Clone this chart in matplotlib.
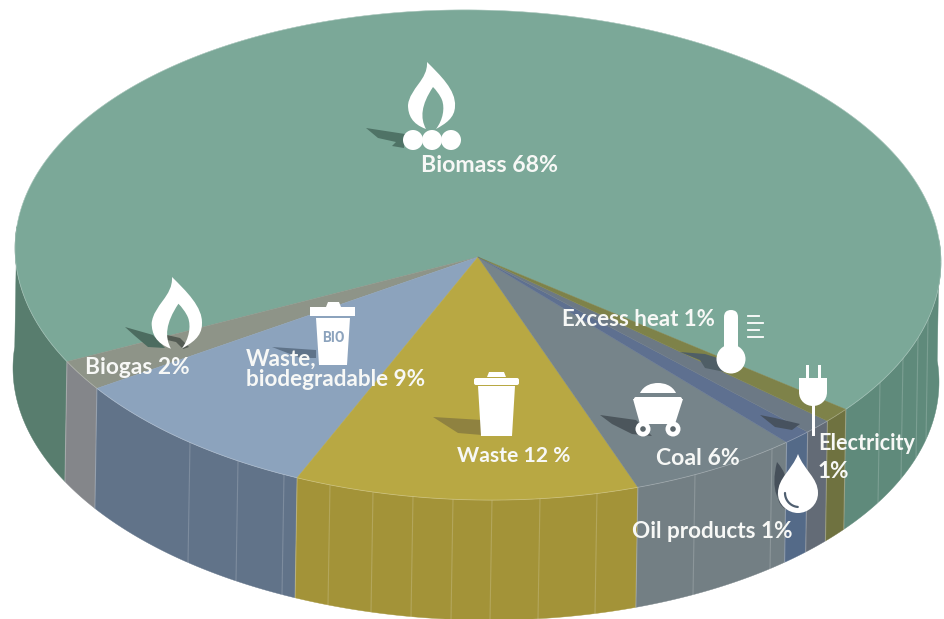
import numpy as np
import matplotlib
matplotlib.use("Agg")
import matplotlib.pyplot as plt
from matplotlib.path import Path
from matplotlib.patches import PathPatch, Circle, Polygon, FancyBboxPatch

# Data
sources = ["Biomass", "Biogas", "Waste bio", "Waste", "Coal", "Oil products", "Electricity", "Excess heat"]
shares = [68, 2, 9, 12, 6, 1, 1, 1]
top_colors = ["#7ba898", "#8e9488", "#8ca3bd", "#b8a843", "#76848a", "#5e7090", "#6c7985", "#7e8249"]
side_colors = ["#5f8a7b", "#84868a", "#617389", "#a39338", "#737f84", "#546a88", "#636b76", "#6f7240"]
side_left = "#587d6e"
seam_x = [190, 238, 284, 330, 373, 413, 453, 492, 540, 597, 695, 772, 880, 903, 918, 928]

label_texts = ["Biomass 68%", "Biogas 2%", "Waste,", "biodegradable 9%", "Waste 12 %",
               "Coal 6%", "Oil products 1%", "Electricity", "1%", "Excess heat 1%"]
label_x = [421, 85, 246, 246, 457, 656, 632, 818, 818, 562]
label_y = [165.5, 367.5, 359.5, 379.5, 456, 458.5, 532, 443, 472, 319.5]
label_size = [16.7, 16.4, 16.2, 16.2, 15.2, 16.6, 16.2, 15.6, 16.2, 16.0]

# Geometry of the disc, in pixels
cx, cy = 478, 255
a, b = 463, 245
tilt = 0.015
apex = (478, 257)
depth = 120
start_angle = 322.6
white = "#ffffff"
text_white = "#f7f8f6"


def rim(t, drop=0.0):
    # t in degrees, drop=1 gives the bottom rim
    t = np.radians(t)
    x = cx - 2 * drop + a * np.cos(t)
    y = cy + depth * drop - b * np.sin(t) + tilt * a * np.cos(t)
    return np.column_stack([x, y])


def add_side(ax, t1, t2, color):
    ts = np.linspace(t1, t2, 60)
    pts = np.vstack([rim(ts), rim(ts[::-1], 1)])
    ax.add_patch(Polygon(pts, closed=True, fc=color, ec=color, lw=0.3, zorder=2))


def flame(ox, oy, s):
    segs = [(0, 0), (13, 13), (29, 28), (28, 44), (28, 56), (18, 62), (9, 67),
            (16, 58), (18, 46), (15, 38), (13, 33), (9, 28), (6, 25),
            (-6, 43), (-7, 56), (-1, 67), (-15, 62), (-19, 53), (-19, 43),
            (-17, 26), (1, 18), (0, 0)]
    verts = [(ox + s * p[0], oy + s * p[1]) for p in segs]
    codes = [Path.MOVETO] + [Path.CURVE4] * (len(verts) - 1)
    return PathPatch(Path(verts, codes), fc=white, ec="none", zorder=6)


def shadow(ax, pts, color):
    ax.add_patch(Polygon(pts, closed=True, fc=color, ec="none", zorder=5))


fig = plt.figure(figsize=(9.45, 6.19), dpi=100)
ax = fig.add_axes([0, 0, 1, 1])
ax.set_xlim(0, 945)
ax.set_ylim(619, 0)
ax.axis("off")

edges = start_angle + np.concatenate([[0], np.cumsum(shares)]) * 3.6

# sides first, only the part facing us
for i in range(len(shares)):
    t1, t2 = edges[i], edges[i + 1]
    if i == 0:
        add_side(ax, t1, 365, side_colors[i])
        add_side(ax, 175, t2 - 360, side_left)
    else:
        add_side(ax, t1 - 360 if t1 >= 360 else t1, t2 - 360 if t1 >= 360 else t2, side_colors[i])

# seams on the side
for x in seam_x:
    t = 360 - np.degrees(np.arccos((x - cx) / a))
    line = np.vstack([rim(t), rim(t, 1)])
    ax.plot(line[:, 0], line[:, 1], color="white", alpha=0.18, lw=0.8, zorder=3)
for e in edges[:-1]:
    t = e % 360
    if t > 180:
        line = np.vstack([rim(t), rim(t, 1)])
        ax.plot(line[:, 0], line[:, 1], color="white", alpha=0.25, lw=0.8, zorder=3)

# top face
for i in range(len(shares)):
    ts = np.linspace(edges[i], edges[i + 1], 300)
    pts = np.vstack([rim(ts), [apex]])
    ax.add_patch(Polygon(pts, closed=True, fc=top_colors[i], ec=top_colors[i], lw=0.3, zorder=4))
ts = np.linspace(0, 360, 400)
ring = rim(ts)
ax.plot(ring[:, 0], ring[:, 1], color="white", alpha=0.25, lw=0.6, zorder=4)

# biomass icon
shadow(ax, [(366, 128), (405, 134), (404, 148), (392, 146), (396, 142), (378, 138)], "#4f7366")
ax.add_patch(flame(427, 62, 1.0))
for x in [413, 432, 451]:
    ax.add_patch(Circle((x, 140), 10, fc=white, ec="none", zorder=6))

# biogas icon
shadow(ax, [(125, 327), (153, 335), (165, 348), (148, 347), (135, 336)], "#4c6c60")
shadow(ax, [(167, 335), (180, 338), (189, 347), (183, 349), (176, 342), (167, 340)], "#545c54")
ax.add_patch(flame(172, 277, 1.07))

# biodegradable waste bin
shadow(ax, [(272, 347), (316, 350), (316, 358), (300, 358), (285, 352)], "#5f7389")
ax.add_patch(Polygon([(326, 307), (328, 302), (339, 302), (341, 307)], fc=white, ec="none", zorder=6))
ax.add_patch(Polygon([(310, 307), (355, 307), (355, 316), (310, 316)], fc=white, ec="none", zorder=6))
ax.add_patch(Polygon([(316, 318), (350, 318), (347, 365), (319, 365)], fc=white, ec="none", zorder=6))
ax.text(333, 338, "BIO", color="#8ca3bd", fontsize=10, fontweight="bold", family="Roboto",
        ha="center", va="center", zorder=7)

# waste bin
shadow(ax, [(433, 417), (482, 420), (482, 435), (458, 433)], "#8f8240")
ax.add_patch(Polygon([(487, 377), (489, 372), (504, 372), (506, 377)], fc=white, ec="none", zorder=6))
ax.add_patch(FancyBboxPatch((474, 378), 45, 7, boxstyle="round,pad=0,rounding_size=2", fc=white, ec="none", zorder=6))
ax.add_patch(Polygon([(478, 386), (515, 386), (512, 436), (481, 436)], fc=white, ec="none", zorder=6))

# thermometer
shadow(ax, [(680, 352), (705, 354), (730, 362), (725, 372), (705, 368), (700, 360)], "#4f5e66")
ax.add_patch(FancyBboxPatch((724, 310), 14, 45, boxstyle="round,pad=0,rounding_size=7", fc=white, ec="none", zorder=6))
ax.add_patch(Circle((731, 359), 14.5, fc=white, ec="none", zorder=6))
for y, x2 in zip([316, 323, 330, 337], [759, 763, 759, 763]):
    ax.plot([748, x2], [y, y], color=white, lw=1.3, zorder=6)

# plug
shadow(ax, [(760, 415), (775, 418), (800, 424), (792, 430), (775, 427)], "#47525f")
for x in [806, 818]:
    ax.add_patch(Polygon([(x, 365), (x + 3, 365), (x + 3, 379), (x, 379)], fc=white, ec="none", zorder=6))
head = Path([(799, 378), (827, 378), (827, 392), (827, 401), (820, 406), (813, 406),
             (806, 406), (799, 401), (799, 392), (799, 378)],
            [Path.MOVETO, Path.LINETO, Path.LINETO, Path.CURVE4, Path.CURVE4, Path.CURVE4,
             Path.CURVE4, Path.CURVE4, Path.CURVE4, Path.LINETO])
ax.add_patch(PathPatch(head, fc=white, ec="none", zorder=6))
ax.add_patch(Polygon([(812, 404), (815, 404), (815, 436), (812, 436)], fc=white, ec="none", zorder=6))

# coal cart
shadow(ax, [(600, 415), (636, 420), (652, 436), (632, 434), (612, 424)], "#4c565c")
dome = Path([(640, 393), (644, 385), (652, 383), (658, 383), (664, 383), (672, 385), (676, 393), (640, 393)],
            [Path.MOVETO] + [Path.CURVE4] * 6 + [Path.LINETO])
ax.add_patch(PathPatch(dome, fc=white, ec="none", zorder=6))
ax.add_patch(FancyBboxPatch((634, 397), 48, 4, boxstyle="round,pad=0,rounding_size=2", fc=white, ec="none", zorder=6))
ax.add_patch(Polygon([(633, 399), (683, 399), (675, 424), (640, 424)], fc=white, ec="none", zorder=6))
for x in [643, 673]:
    ax.add_patch(Circle((x, 429), 7.5, fc=white, ec="none", zorder=6))
    ax.add_patch(Circle((x, 429), 2.8, fc="#5c676c", ec="none", zorder=7))

# oil drop
crescent_back = Path([(777, 462), (785, 472), (790, 480), (778, 492), (776, 500), (782, 510), (790, 510),
                      (778, 505), (770, 490), (777, 462)],
                     [Path.MOVETO] + [Path.CURVE4] * 9)
ax.add_patch(PathPatch(crescent_back, fc="#46505a", ec="none", zorder=5))
drop = Path([(798, 454), (804, 470), (818, 478), (818, 493), (818, 505), (808, 513), (798, 513),
             (788, 513), (778, 505), (778, 493), (778, 478), (792, 470), (798, 454)],
            [Path.MOVETO] + [Path.CURVE4] * 12)
ax.add_patch(PathPatch(drop, fc=white, ec="none", zorder=6))
ts = np.radians(np.linspace(95, 180, 30))
ax.plot(799 + 14 * np.cos(ts), 493 + 14 * np.sin(ts), color="#4f5f70", lw=1.6, zorder=7, solid_capstyle="round")

# labels
for txt, x, y, size in zip(label_texts, label_x, label_y, label_size):
    ax.text(x, y, txt, color=text_white, fontsize=size, fontweight="bold", family="Lato",
            ha="left", va="center", zorder=8)

fig.savefig("out.png", dpi=100)
